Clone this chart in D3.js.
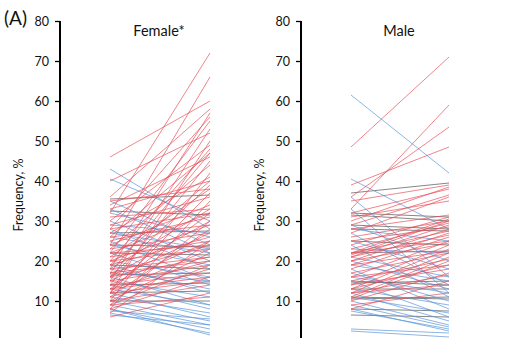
<!DOCTYPE html>
<html>
<head>
<meta charset="utf-8">
<script src="https://cdn.jsdelivr.net/npm/d3@7"></script>
<style>
  body { margin: 0; background: #fff; }
  text { font-family: Lato, "Open Sans", sans-serif; fill: #111; }
</style>
</head>
<body>
<div id="chartArea"></div>
<script>
// [start, end] frequency pairs, grouped by direction of change
let femaleUp = [
  [46,60],[32,72],[24,66],[36,58],[18,57],[28,56],[22,55],[15,53],[40,52],[12,50],
  [30,49],[20,48],[26,47],[17,47],[34,46],[14,45],[23,44],[10,42],[27,41],[19,40],
  [33,40],[16,39],[21,38],[12,37],[29,36],[8,35],[24,34],[18,33],[13,32],[31,33],
  [22,32],[9,30],[25,31],[16,30],[20,29],[11,28],[28,32],[15,27],[19,26],[7,25],
  [23,27],[14,25],[17,24],[12,23],[21,25],[10,22],[26,29],[16,21],[13,20],[9,19],
  [20,23],[11,18],[15,19],[8,16],[18,21],[12,15],[14,17],[6,12],[10,14],[22,24],
  [35,38],[17,20],[9,11],[13,16]
]
let femaleDown = [
  [43,28],[40.5,30],[33,22],[35,24],[32,26],[30,20],[28,18],[27,23],[25,15],[24,19],
  [22,14],[20,16],[19,12],[18,13],[16,9],[15,11],[14,8],[12,6],[11,7],[10,5],
  [9,4],[8,3],[7,2],[7.5,5.5],[6.5,4],[8,1.5],[13,9],[26,22],[29,27],[17,15]
]
let femaleFlat = [
  [35.5,36.5],[32.5,31.5],[27,27.5],[22,21.5],[19,18],[16.5,17],[12,12.5],[10,10],
  [14,14.5],[24,23.5]
]

let maleUp = [
  [48.5,71],[33,59],[36,53.5],[39,48.5],[35,39],[30,38.5],[32,38],[29,36.5],[27,36],[31,35],
  [24,31],[22,30.5],[21.5,30],[23,29.5],[21,29],[20,28],[22,27.5],[19,27],[21,26.5],[18,26],
  [16,25],[22,25],[14,24],[20,24.5],[13,23],[12,22],[17,22],[11,21],[15,20.5],[10.5,20],
  [13,19],[14,18],[10,17],[12,16.5],[8,15],[25,28.5],[26,30],[28,31.5],[9,12],[16,19],
  [19,22.5],[12,14]
]
let maleDown = [
  [61.5,42],[40.5,28],[36,16],[33,12],[29,20],[27,14],[25,18],[24,11],[23,22],[20,13],
  [18,8],[17,10],[16,12],[15,6],[13,9],[12,5],[11,7],[10,4],[9,3.5],[8,2.5],
  [7.5,3],[3,2],[2.5,1],[19,15],[21,16],[28,25]
]
let maleFlat = [
  [37,39.5],[32,31],[31.5,30],[29,28],[28,27.5],[25,24],[22,22.5],[14.5,15],[13,13],
  [11,10.5],[10.5,11],[8,7.5],[6.5,6],[15,14]
]

let yTicks = [10, 20, 30, 40, 50, 60, 70, 80]

let colors = { up: '#e64c56', down: '#5591d8', flat: '#4d4d4d' }

let panels = [
  { title: 'Female*', axisX: 60, x0: 110, x1: 210, groups: { flat: femaleFlat, down: femaleDown, up: femaleUp } },
  { title: 'Male', axisX: 301, x0: 351, x1: 449, groups: { flat: maleFlat, down: maleDown, up: maleUp } }
]

let svg = d3.select('#chartArea')
    .append('svg')
    .attr('width', 516)
    .attr('height', 338)

let yScale = d3.scaleLinear()
    .domain([0, 80])
    .range([341, 21])

svg.append('text')
    .attr('x', 4)
    .attr('y', 25)
    .style('font-size', '19px')
    .text('(A)')

panels.forEach(function(p) {
  let xScale = d3.scalePoint()
      .domain(['pre', 'post'])
      .range([p.x0, p.x1])

  let g = svg.append('g')

  // spaghetti lines, flat first so the coloured ones sit on top
  Object.keys(p.groups).forEach(function(key) {
    g.append('g')
      .selectAll('line')
      .data(p.groups[key])
      .enter()
      .append('line')
      .attr('x1', xScale('pre'))
      .attr('x2', xScale('post'))
      .attr('y1', d => yScale(d[0]))
      .attr('y2', d => yScale(d[1]))
      .attr('stroke', colors[key])
      .attr('stroke-width', 0.85)
      .attr('stroke-opacity', 0.8)
  })

  let axis = g.append('g')
      .attr('transform', `translate(${p.axisX},0)`)
      .call(d3.axisLeft(yScale).tickValues(yTicks).tickSize(5).tickPadding(6))
  axis.select('.domain').attr('stroke-width', 2).attr('d', `M0,21V338`)
  axis.selectAll('.tick line').attr('stroke-width', 1.3)
  axis.selectAll('.tick text')
      .style('font-size', '12.5px')
      .style('font-family', 'Lato, "Open Sans", sans-serif')
      .attr('fill', '#111')

  g.append('text')
    .attr('text-anchor', 'middle')
    .attr('transform', `translate(${p.axisX - 37},195) rotate(-90)`)
    .style('font-size', '12.5px')
    .text('Frequency, %')

  g.append('text')
    .attr('x', (p.x0 + p.x1) / 2 - 1)
    .attr('y', 36)
    .attr('text-anchor', 'middle')
    .style('font-size', '14.5px')
    .text(p.title)
})
</script>
</body>
</html>
